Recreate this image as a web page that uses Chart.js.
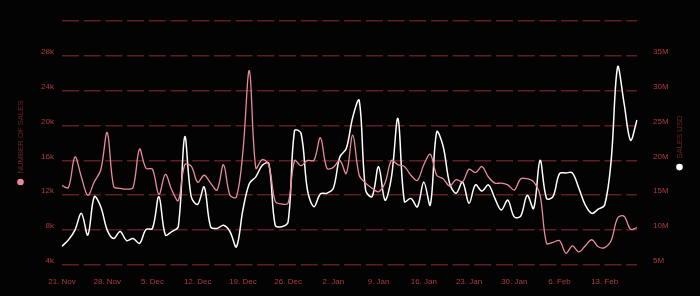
<!DOCTYPE html>
<html>
<head>
<meta charset="utf-8">
<script src="https://cdn.jsdelivr.net/npm/chart.js@4/dist/chart.umd.min.js"></script>
<style>
  html, body { margin: 0; padding: 0; background: #030303; }
  #wrap { width: 700px; height: 296px; }
</style>
</head>
<body>
<div id="wrap"><canvas id="sales-chart"></canvas></div>
<script>
const dates = [
    '21. Nov', '22. Nov', '23. Nov', '24. Nov', '25. Nov', '26. Nov', '27. Nov', '28. Nov', '29. Nov', '30. Nov',
    '1. Dec', '2. Dec', '3. Dec', '4. Dec', '5. Dec', '6. Dec', '7. Dec', '8. Dec', '9. Dec', '10. Dec',
    '11. Dec', '12. Dec', '13. Dec', '14. Dec', '15. Dec', '16. Dec', '17. Dec', '18. Dec', '19. Dec', '20. Dec',
    '21. Dec', '22. Dec', '23. Dec', '24. Dec', '25. Dec', '26. Dec', '27. Dec', '28. Dec', '29. Dec', '30. Dec',
    '31. Dec', '1. Jan', '2. Jan', '3. Jan', '4. Jan', '5. Jan', '6. Jan', '7. Jan', '8. Jan', '9. Jan',
    '10. Jan', '11. Jan', '12. Jan', '13. Jan', '14. Jan', '15. Jan', '16. Jan', '17. Jan', '18. Jan', '19. Jan',
    '20. Jan', '21. Jan', '22. Jan', '23. Jan', '24. Jan', '25. Jan', '26. Jan', '27. Jan', '28. Jan', '29. Jan',
    '30. Jan', '31. Jan', '1. Feb', '2. Feb', '3. Feb', '4. Feb', '5. Feb', '6. Feb', '7. Feb', '8. Feb',
    '9. Feb', '10. Feb', '11. Feb', '12. Feb', '13. Feb', '14. Feb', '15. Feb', '16. Feb', '17. Feb', '18. Feb'
];

// number of sales (left axis)
const salesCount = [
    13100, 12900, 16400, 14100, 12000, 13550, 14900, 19200, 13000, 12800,
    12700, 12900, 17300, 15100, 15000, 12100, 14400, 12600, 11400, 15500,
    15350, 13500, 14300, 13400, 12600, 15500, 12000, 11800, 17000, 26300,
    15100, 16100, 15500, 11300, 11000, 11100, 16000, 15400, 16000, 16000,
    18600, 15100, 15200, 16000, 14500, 18900, 14300, 13400, 12800, 12400,
    13400, 16000, 15500, 15300, 14300, 13700, 15500, 16700, 14300, 13900,
    13050, 13800, 13550, 15000, 14600, 15300, 14100, 13400, 13400, 13200,
    12600, 13900, 13900, 13550, 12000, 6500, 6600, 6800, 5350, 6200,
    5500, 6200, 6900, 6100, 6000, 6800, 9400, 9600, 8100, 8300
];

// sales in USD (right axis)
const salesUsd = [
    7.7, 8.6, 10.0, 12.4, 9.3, 14.8, 13.35, 10.0, 8.8, 9.8,
    8.5, 8.8, 8.1, 10.1, 10.25, 14.8, 9.3, 9.8, 10.5, 23.4,
    14.8, 13.7, 16.2, 10.5, 10.25, 10.7, 9.8, 7.6, 12.9, 16.7,
    17.65, 19.3, 19.6, 10.7, 10.5, 11.2, 24.3, 23.9, 15.7, 13.35,
    15.2, 15.3, 16.0, 20.5, 21.7, 26.2, 28.6, 15.7, 14.8, 19.1,
    14.3, 17.65, 26.0, 14.1, 14.55, 13.35, 16.9, 13.6, 24.1, 22.0,
    16.7, 15.3, 16.9, 13.85, 16.5, 15.6, 16.5, 14.55, 12.9, 14.3,
    11.9, 12.0, 15.0, 13.1, 20.0, 14.55, 14.8, 18.1, 18.2, 18.2,
    16.0, 13.6, 12.4, 13.0, 13.6, 20.0, 33.4, 28.2, 22.9, 25.8
].map(v => v * 1000000);

const pink = '#e98a9c';
const white = '#ffffff';
const tickColor = '#b03a3c';
const titleColor = '#6e2328';
const gridColor = '#5e1f22';

document.addEventListener('DOMContentLoaded', function() {
    const ctx = document.getElementById('sales-chart').getContext('2d');

    // axis titles with a legend dot, like the original
    const axisTitles = {
        id: 'axisTitles',
        afterDraw(chart) {
            const c = chart.ctx;
            const area = chart.chartArea;
            const mid = (area.top + area.bottom) / 2;
            const items = [
                { text: 'NUMBER OF SALES', x: 20.5, color: pink },
                { text: 'SALES USD', x: 679.5, color: white }
            ];
            c.save();
            c.font = '7.7px "Liberation Sans", Arial, sans-serif';
            items.forEach(function(it) {
                const w = c.measureText(it.text).width;
                const bottom = mid + (w + 12) / 2;
                c.beginPath();
                c.arc(it.x, bottom - 3.5, 3.3, 0, Math.PI * 2);
                c.fillStyle = it.color;
                c.fill();
                c.save();
                c.translate(it.x, bottom - 12 - w / 2);
                c.rotate(-Math.PI / 2);
                c.fillStyle = titleColor;
                c.textAlign = 'center';
                c.textBaseline = 'middle';
                c.fillText(it.text, 0, 0);
                c.restore();
            });
            c.restore();
        }
    };

    const tickFont = { family: '"Liberation Sans", Arial, sans-serif', size: 8 };

    new Chart(ctx, {
        type: 'line',
        data: {
            labels: dates,
            datasets: [{
                label: 'Number of sales',
                data: salesCount,
                yAxisID: 'y',
                borderColor: pink,
                borderWidth: 1.3,
                pointRadius: 0,
                tension: 0.35,
                fill: false
            }, {
                label: 'Sales USD',
                data: salesUsd,
                yAxisID: 'y1',
                borderColor: white,
                borderWidth: 1.5,
                pointRadius: 0,
                tension: 0.35,
                fill: false
            }]
        },
        options: {
            responsive: true,
            maintainAspectRatio: false,
            animation: false,
            layout: { padding: { top: 21, left: 0, right: 0, bottom: 0 } },
            plugins: {
                legend: { display: false },
                tooltip: { enabled: false }
            },
            scales: {
                x: {
                    offset: false,
                    grid: { display: false },
                    border: { display: false },
                    ticks: {
                        color: tickColor,
                        font: tickFont,
                        autoSkip: false,
                        maxRotation: 0,
                        padding: 4,
                        callback: function(val, i) {
                            return i % 7 === 0 ? dates[i] : null;
                        }
                    },
                    afterFit: function(scale) { scale.height = 31; }
                },
                y: {
                    position: 'left',
                    min: 4000,
                    max: 32000,
                    border: { display: false },
                    grid: {
                        color: gridColor,
                        lineWidth: 1.6,
                        drawTicks: false
                    },
                    border: { display: false, dash: [17, 4.7] },
                    ticks: {
                        stepSize: 4000,
                        color: tickColor,
                        font: tickFont,
                        padding: 8,
                        labelOffset: -4,
                        callback: function(v) {
                            return v >= 32000 ? '' : (v / 1000) + 'k';
                        }
                    },
                    afterFit: function(scale) { scale.width = 62; }
                },
                y1: {
                    position: 'right',
                    min: 5000000,
                    max: 40000000,
                    grid: { display: false },
                    border: { display: false },
                    ticks: {
                        stepSize: 5000000,
                        color: tickColor,
                        font: tickFont,
                        padding: 8,
                        labelOffset: -4,
                        callback: function(v) {
                            return v >= 40000000 ? '' : (v / 1000000) + 'M';
                        }
                    },
                    afterFit: function(scale) { scale.width = 63; }
                }
            }
        },
        plugins: [axisTitles]
    });
});
</script>
</body>
</html>
